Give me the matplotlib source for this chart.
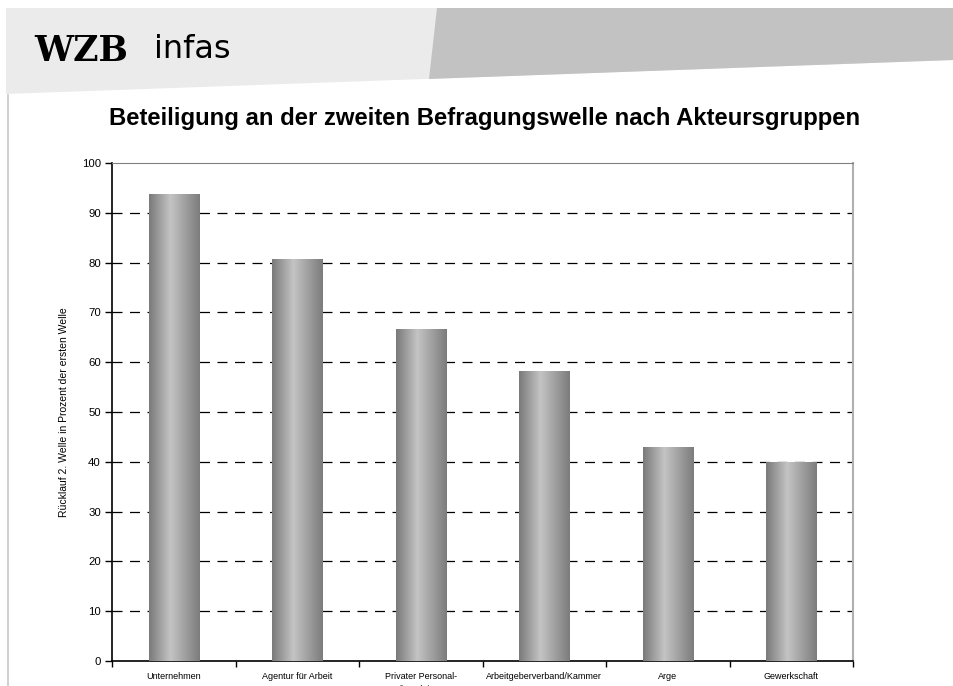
import numpy as np
import matplotlib
matplotlib.use('Agg')
import matplotlib.pyplot as plt
from matplotlib.patches import Polygon
from matplotlib.colors import LinearSegmentedColormap

plt.rcParams['font.family'] = ['Liberation Sans', 'DejaVu Sans']

# Daten
kategorien = ['Unternehmen', 'Agentur für Arbeit', 'Privater Personal-\ndienstleister',
              'Arbeitgeberverband/Kammer', 'Arge', 'Gewerkschaft']
ruecklauf = [93.8, 80.8, 66.7, 58.2, 42.9, 40.0]
y_ticks = [0, 10, 20, 30, 40, 50, 60, 70, 80, 90, 100]

titel = 'Beteiligung an der zweiten Befragungswelle nach Akteursgruppen'
y_label = 'Rücklauf 2. Welle in Prozent der ersten Welle'

W, H = 954, 686
fig = plt.figure(figsize=(W / 100, H / 100), dpi=100)

# Kopfzeile (Folienhintergrund) in Pixelkoordinaten
bg = fig.add_axes([0, 0, 1, 1])
bg.set_xlim(0, W)
bg.set_ylim(H, 0)
bg.axis('off')
bg.add_patch(Polygon([(6, 8), (W, 8), (W, 60), (6, 94)], closed=True,
                     facecolor='#ebebeb', edgecolor='none'))
bg.add_patch(Polygon([(437, 8), (W, 8), (W, 60), (429, 79)], closed=True,
                     facecolor='#c2c2c2', edgecolor='none'))
bg.plot([8, 8], [95, H], color='#c8c8c8', lw=1.2)
bg.text(34, 51, 'WZB', family='DejaVu Serif', weight='bold', fontsize=25,
        va='center', ha='left', color='black')
bg.text(154, 50, 'infas', family='DejaVu Sans', fontsize=23,
        va='center', ha='left', color='black')
bg.text(485, 119, titel, fontsize=17.2, weight='bold', ha='center', va='center')

# Diagramm
ax = fig.add_axes([112 / W, (H - 661) / H, 741 / W, 498 / H])
x = np.arange(len(kategorien))
breite = 0.405
bars = ax.bar(x, ruecklauf, width=breite, color='none', edgecolor='none', zorder=3)

# Zylinder-Verlauf in den Balken
verlauf = LinearSegmentedColormap.from_list(
    'zyl', [(0, '#7a7a7a'), (0.42, '#c4c4c4'), (1, '#7c7c7c')])
grad = np.linspace(0, 1, 200).reshape(1, -1)
for b in bars:
    x0 = b.get_x()
    im = ax.imshow(grad, cmap=verlauf, aspect='auto', zorder=3,
                   extent=[x0, x0 + b.get_width(), 0, b.get_height()])
    im.set_clip_path(b)

ax.set_xlim(-0.5, len(kategorien) - 0.5)
ax.set_ylim(0, 100)
ax.set_yticks(y_ticks)
ax.set_yticklabels([str(t) for t in y_ticks], fontsize=8.2)
ax.set_xticks(np.arange(len(kategorien) + 1) - 0.5)
ax.set_xticklabels([])
ax.set_xticks(x, minor=True)
ax.set_xticklabels(kategorien, minor=True, fontsize=6.5, linespacing=1.6)
ax.tick_params(axis='x', which='minor', length=0, pad=8)
ax.tick_params(axis='x', which='major', length=4, direction='out', width=1)
ax.tick_params(axis='y', length=5, direction='out', width=1, pad=3)

for t in y_ticks[1:-1]:
    ax.axhline(t, color='black', lw=0.9, ls=(0, (8, 6)), zorder=1)

ax.spines['left'].set_color('black')
ax.spines['bottom'].set_color('black')
ax.spines['left'].set_linewidth(1.2)
ax.spines['bottom'].set_linewidth(1.2)
ax.spines['top'].set_color('#808080')
ax.spines['right'].set_color('#b0b0b0')
ax.spines['right'].set_linewidth(1.5)

ax.set_ylabel(y_label, fontsize=7.5, labelpad=9)

fig.savefig('out.png', dpi=100)
